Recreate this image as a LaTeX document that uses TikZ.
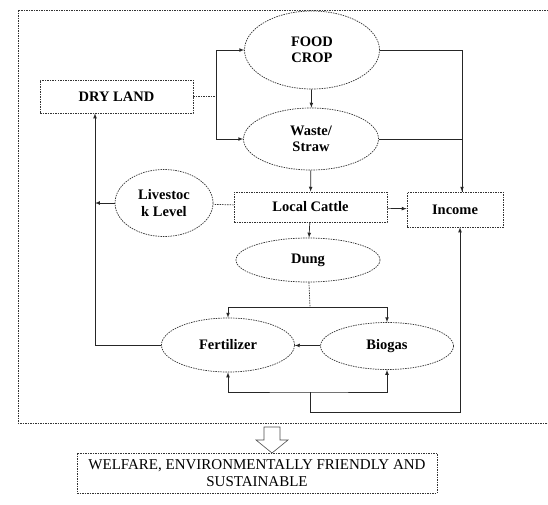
\documentclass[tikz,border=0pt]{standalone}
\usepackage{fontspec}
\setmainfont{Liberation Serif}
\usetikzlibrary{calc, positioning, shapes.geometric}

\tikzset{
  oval/.style={draw=black!80, dash pattern=on 1.5pt off 1pt, line width=0.7pt, ellipse, inner sep=0pt, align=center,
               font=\fontsize{14.5}{16.5}\selectfont\bfseries},
  panel/.style={draw=black!80, dash pattern=on 1.5pt off 1pt, line width=0.7pt, rectangle, inner sep=0pt, align=center,
               font=\fontsize{14.5}{16.5}\selectfont\bfseries},
  link/.style={draw=black!85, line width=0.7pt},
  dotlink/.style={draw=black!80, line width=0.7pt, dash pattern=on 1.5pt off 1pt},
}

\begin{document}
\begin{tikzpicture}[x=1pt, y=-1pt, >=latex]
      \useasboundingbox (0,0) rectangle (548,504);

      % outer frame, open on the right
      \draw[dotlink] (548,10) -| (18,423) -- (548,423);

      \node[panel, minimum width=153pt, minimum height=33pt] (dry) at (116.5,96.5) {DRY LAND};
      \node[oval, minimum width=135pt, minimum height=78pt] (food) at (312,50) {FOOD\\CROP};
      \node[oval, minimum width=135pt, minimum height=62pt] (waste) at (311,139) {Waste/\\Straw};
      \node[panel, minimum width=153pt, minimum height=30pt] (cattle) at (310.5,207) {Local Cattle};
      \node[panel, minimum width=96pt, minimum height=35pt] (income) at (455,209.5) {Income};
      \node[oval, minimum width=98pt, minimum height=67pt] (live) at (164,203) {Livestoc\\k Level};
      \node[oval, minimum width=144pt, minimum height=44pt] (dung) at (308,260) {Dung};
      \node[oval, minimum width=133pt, minimum height=54pt] (fert) at (228,345) {Fertilizer};
      \node[oval, minimum width=133pt, minimum height=47pt] (bio) at (387,346) {Biogas};
      \node[panel, minimum width=360pt, minimum height=40pt, font=\fontsize{15}{17}\selectfont] (welfare) at (257,473)
            {WELFARE, ENVIRONMENTALLY FRIENDLY AND\\SUSTAINABLE};

      \coordinate (split) at (216,96.5);
      \coordinate (back) at (95,345);
      \coordinate (fork) at (310,307);
      \coordinate (join) at (310,392);

      % dry land to crops
      \draw[dotlink] (dry.east) -- (split);
      \draw[link,->] (split) |- (food);
      \draw[link,->] (split) |- (waste);

      % crops to income
      \draw[link,->] (food) -- (waste);
      \draw[link,->] (food.east) -| ([xshift=7pt]income.north);
      \draw[link] (waste.east) -| ([xshift=7pt]income.north);

      % cattle
      \draw[link,->] (waste) -- (cattle);
      \draw[link,->] (cattle) -- (income);
      \draw[dotlink] (cattle) -- (live);
      \draw[link,->] (live.west) -- (live.west -| back);
      \draw[link,->] (cattle) -- (dung);

      % dung products
      \draw[dotlink] (dung) -- (fork);
      \draw[link,->] (fork) -| (fert);
      \draw[link,->] (fork) -| (bio);
      \draw[link,->] (bio) -- (fert);
      \draw[link,<->] (fert.south) |- (join) -| (bio.south);
      \draw[link,->] (join) -- ++(0,20) -| ([xshift=5pt]income.south);
      \draw[link,->] (fert.west) -| (back |- dry.south);

      % hollow arrow down to result
      \draw[draw=black!70, line width=0.6pt] (264,427) -- (280,427) -- (280,440) -- (288,440)
            -- (272,453) -- (256,440) -- (264,440) -- cycle;
\end{tikzpicture}
\end{document}
